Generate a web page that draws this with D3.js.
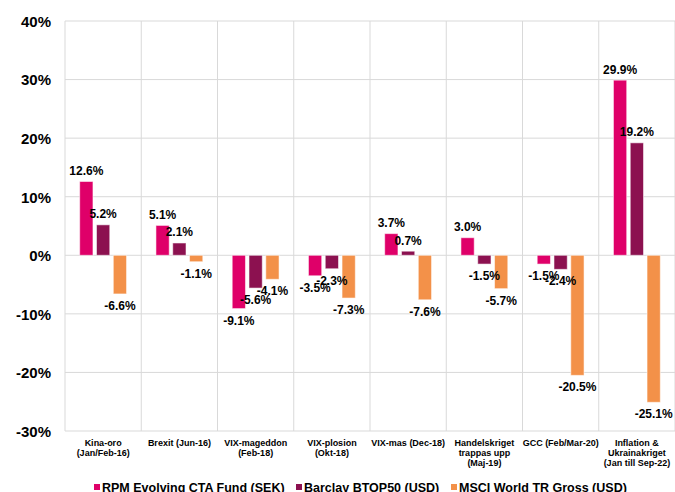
<!DOCTYPE html>
<html>
<head>
<meta charset="utf-8">
<script src="https://cdn.jsdelivr.net/npm/d3@7"></script>
<style>
  body { margin: 0; background: #fff; }
  svg { display: block; font-family: "Liberation Sans", Arial, sans-serif; font-weight: bold; }
</style>
</head>
<body>
<div id="chart"></div>
<script>
// Händelser (kategorier) och etiketter per rad
const categories = ["Kina-oro", "Brexit", "VIX-mageddon", "VIX-plosion", "VIX-mas", "Handelskriget", "GCC", "Inflation"];
const categoryLabels = [
    ["Kina-oro", "(Jan/Feb-16)"],
    ["Brexit (Jun-16)"],
    ["VIX-mageddon", "(Feb-18)"],
    ["VIX-plosion", "(Okt-18)"],
    ["VIX-mas (Dec-18)"],
    ["Handelskriget", "trappas upp", "(Maj-19)"],
    ["GCC (Feb/Mar-20)"],
    ["Inflation &", "Ukrainakriget", "(Jan till Sep-22)"]
];

const seriesNames = ["RPM Evolving CTA Fund (SEK)", "Barclay BTOP50 (USD)", "MSCI World TR Gross (USD)"];
const seriesColors = ["#df0069", "#8c1150", "#f39149"];

// Avkastning i procent
const rpmValues = [12.6, 5.1, -9.1, -3.5, 3.7, 3.0, -1.5, 29.9];
const btopValues = [5.2, 2.1, -5.6, -2.3, 0.7, -1.5, -2.4, 19.2];
const msciValues = [-6.6, -1.1, -4.1, -7.3, -7.6, -5.7, -20.5, -25.1];

const yTicks = [-30, -20, -10, 0, 10, 20, 30, 40];

const width = 675, height = 492;
const margin = { top: 21, right: 0, bottom: 61, left: 65 };

const svg = d3.select("#chart")
    .append("svg")
    .attr("width", width)
    .attr("height", height);

const x = d3.scaleBand()
    .domain(categories)
    .range([margin.left, width - margin.right])
    .padding(0);

const xSub = d3.scaleBand()
    .domain(seriesNames)
    .range([0, x.bandwidth()])
    .paddingInner(0.21)
    .paddingOuter(0.875);

const y = d3.scaleLinear()
    .domain([-30, 40])
    .range([height - margin.bottom, margin.top]);

// Horisontella stödlinjer
svg.append("g")
    .selectAll("line")
    .data(yTicks)
    .join("line")
    .attr("x1", margin.left)
    .attr("x2", width - margin.right)
    .attr("y1", d => y(d))
    .attr("y2", d => y(d))
    .attr("stroke", "#d9d9d9")
    .attr("stroke-width", 1);

// Vertikala linjer mellan kategorierna
const boundaries = categories.map(c => x(c)).concat([x(categories[categories.length - 1]) + x.bandwidth()]);
svg.append("g")
    .selectAll("line")
    .data(boundaries)
    .join("line")
    .attr("x1", d => d)
    .attr("x2", d => d)
    .attr("y1", y(40))
    .attr("y2", y(-30))
    .attr("stroke", "#d9d9d9")
    .attr("stroke-width", 1);

// Y-axel
const yAxis = svg.append("g")
    .attr("transform", `translate(${margin.left - 14},0)`)
    .call(d3.axisLeft(y).tickValues(yTicks).tickSize(0).tickFormat(d => d + "%"));
yAxis.select(".domain").remove();
yAxis.selectAll("text")
    .attr("x", 0)
    .attr("dy", "0.36em")
    .style("font-size", "15px")
    .style("font-family", "'Liberation Sans', Arial, sans-serif")
    .style("font-weight", "bold")
    .style("fill", "#000");

// X-axel med flerradiga etiketter
const xAxis = svg.append("g")
    .attr("transform", `translate(0,${y(-30)})`)
    .call(d3.axisBottom(x).tickSize(0).tickFormat(""));
xAxis.select(".domain").remove();
xAxis.selectAll(".tick text").each(function (d, i) {
    const t = d3.select(this)
        .attr("y", 14)
        .attr("dy", 0)
        .style("font-size", "9px")
        .style("font-family", "'Liberation Sans', Arial, sans-serif")
        .style("font-weight", "bold")
        .style("fill", "#000");
    categoryLabels[i].forEach((line, j) => {
        t.append("tspan")
            .attr("x", 0)
            .attr("y", 14.5 + j * 10.3)
            .text(line);
    });
});

// Staplar
const rows = categories.map((c, i) => ({
    category: c,
    values: [rpmValues[i], btopValues[i], msciValues[i]]
}));

const groups = svg.append("g")
    .selectAll("g")
    .data(rows)
    .join("g")
    .attr("transform", d => `translate(${x(d.category)},0)`);

groups.selectAll("rect")
    .data(d => d.values.map((v, k) => ({ name: seriesNames[k], value: v, color: seriesColors[k] })))
    .join("rect")
    .attr("x", d => xSub(d.name))
    .attr("width", xSub.bandwidth())
    .attr("y", d => y(Math.max(0, d.value)))
    .attr("height", d => Math.abs(y(d.value) - y(0)))
    .attr("fill", d => d.color)
    .attr("stroke", "#ffffff")
    .attr("stroke-opacity", 0.55)
    .attr("stroke-width", 1);

// Dataetiketter
groups.selectAll("text")
    .data(d => d.values.map((v, k) => ({ name: seriesNames[k], value: v })))
    .join("text")
    .attr("x", d => xSub(d.name) + xSub.bandwidth() / 2)
    .attr("y", d => d.value >= 0 ? y(d.value) - 6.5 : y(d.value) + 16)
    .attr("text-anchor", "middle")
    .style("font-size", "12px")
    .style("fill", "#000")
    .text(d => d.value.toFixed(1) + "%");

// Förklaring
const legendItems = [
    { name: seriesNames[0], color: seriesColors[0], x: 94 },
    { name: seriesNames[1], color: seriesColors[1], x: 296 },
    { name: seriesNames[2], color: seriesColors[2], x: 451 }
];
const legend = svg.append("g")
    .selectAll("g")
    .data(legendItems)
    .join("g")
    .attr("transform", d => `translate(${d.x},487)`);

legend.append("rect")
    .attr("x", 0)
    .attr("y", -3)
    .attr("width", 6)
    .attr("height", 6)
    .attr("fill", d => d.color);

legend.append("text")
    .attr("x", 8)
    .attr("y", 4.5)
    .style("font-size", "12.5px")
    .style("fill", "#000")
    .text(d => d.name);
</script>
</body>
</html>
